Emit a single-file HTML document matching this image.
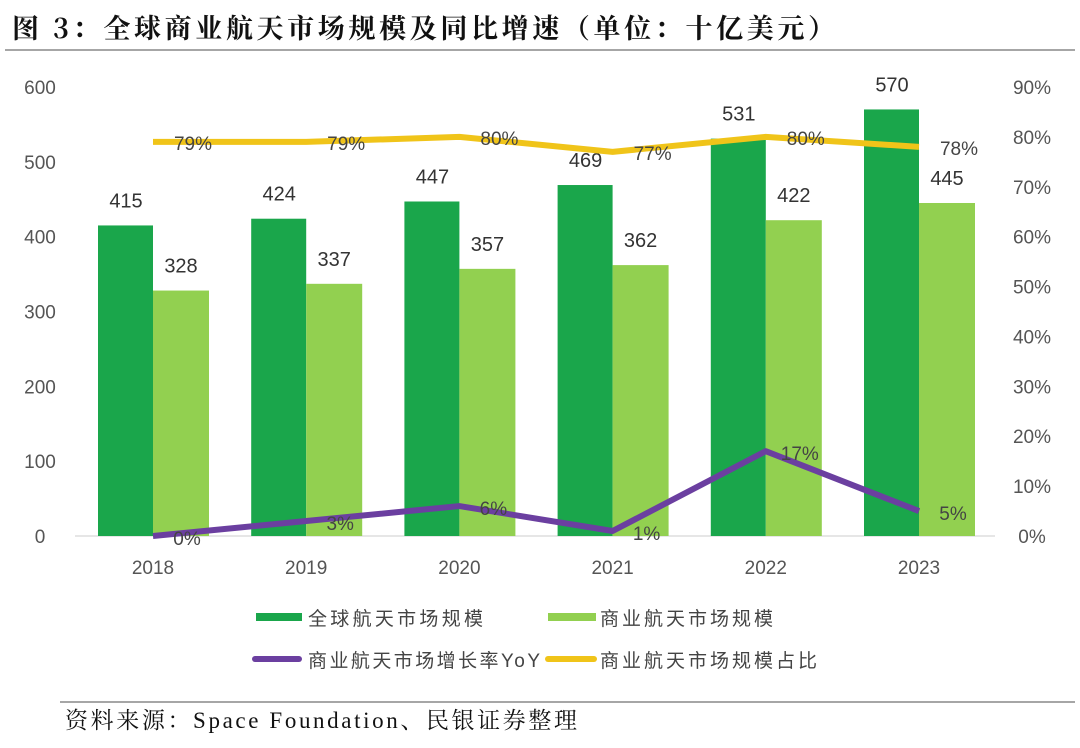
<!DOCTYPE html>
<html><head><meta charset="utf-8"><style>
body{margin:0;background:#fff;width:1080px;height:743px;overflow:hidden;font-family:"Liberation Sans","Noto Sans CJK SC",sans-serif}
</style></head><body>
<svg id="c" width="1080" height="743" xmlns="http://www.w3.org/2000/svg">
<text x="12" y="38" font-family="'Noto Serif CJK SC',serif" font-weight="bold" font-size="27" fill="#111" textLength="823" lengthAdjust="spacing">图 3：全球商业航天市场规模及同比增速（单位：十亿美元）</text>
<line x1="5" y1="50" x2="1075" y2="50" stroke="#888" stroke-width="1.5"/>
<line x1="60" y1="702" x2="1075" y2="702" stroke="#888" stroke-width="1.5"/>
<text x="65" y="728" font-family="'Liberation Serif','Noto Serif CJK SC',serif" font-size="23" fill="#111" textLength="512" lengthAdjust="spacing">资料来源：Space Foundation、民银证券整理</text>
<g id="plot"></g>
<g id="legend" font-size="19" fill="#444">
<rect x="256" y="613" width="46" height="8" fill="#1aa64b"/>
<text x="308" y="625" textLength="175" lengthAdjust="spacing">全球航天市场规模</text>
<rect x="548" y="613" width="48" height="8" fill="#92d050"/>
<text x="600" y="625" textLength="173" lengthAdjust="spacing">商业航天市场规模</text>
<rect x="252" y="656" width="50" height="6" rx="3" fill="#6b3fa0"/>
<text x="308" y="667" textLength="232" lengthAdjust="spacing">商业航天市场增长率YoY</text>
<rect x="545" y="656" width="52" height="6" rx="3" fill="#f0c419"/>
<text x="600" y="667" textLength="217" lengthAdjust="spacing">商业航天市场规模占比</text>
</g>
</svg>
<script>
const categories=["2018","2019","2020","2021","2022","2023"];
const globalVals=[415,424,447,469,531,570];
const commercialVals=[328,337,357,362,422,445];
const growthVals=[0,3,6,1,17,5];
const ratioVals=[79,79,80,77,80,78];
const leftTicks=[0,100,200,300,400,500,600];
const rightTicks=[0,10,20,30,40,50,60,70,80,90];
const NS="http://www.w3.org/2000/svg";
const g=document.getElementById('plot');
const y0=536,yTop=87;
const yL=v=>y0-v/600*(y0-yTop);
const yR=v=>y0-v/90*(y0-yTop);
const xC=i=>153+i*153.2;
function mk(t,a,txt){const e=document.createElementNS(NS,t);for(const k in a)e.setAttribute(k,a[k]);if(txt!=null)e.textContent=txt;g.appendChild(e);return e;}
leftTicks.forEach(v=>{const e=mk('text',{x:40,y:yL(v)+7,'text-anchor':'middle','font-size':19,fill:'#555'},v);

});
rightTicks.forEach(v=>{const e=mk('text',{x:1032,y:yR(v)+7,'text-anchor':'middle','font-size':19,fill:'#555'},v+'%');

});
const ax=mk('line',{x1:75,y1:y0,x2:995,y2:y0,stroke:'#ccc','stroke-width':1});


categories.forEach((c,i)=>{
const x=xC(i);
const b1=mk('rect',{x:x-55,y:yL(globalVals[i]),width:55,height:y0-yL(globalVals[i]),fill:'#1aa64b'});


const b2=mk('rect',{x:x,y:yL(commercialVals[i]),width:56,height:y0-yL(commercialVals[i]),fill:'#92d050'});


const l1=mk('text',{x:x-27,y:yL(globalVals[i])-18,'text-anchor':'middle','font-size':20,fill:'#333'},globalVals[i]);


const l2=mk('text',{x:x+28,y:yL(commercialVals[i])-18,'text-anchor':'middle','font-size':20,fill:'#333'},commercialVals[i]);


const t=mk('text',{x:x,y:574,'text-anchor':'middle','font-size':19,fill:'#555'},c);


});
const rl=mk('polyline',{points:ratioVals.map((v,i)=>xC(i)+','+yR(v)).join(' '),fill:'none',stroke:'#f0c419','stroke-width':6,'stroke-linejoin':'round'});


const gl=mk('polyline',{points:growthVals.map((v,i)=>xC(i)+','+yR(v)).join(' '),fill:'none',stroke:'#6b3fa0','stroke-width':6,'stroke-linejoin':'round'});


categories.forEach((c,i)=>{
const x=xC(i);
const a=mk('text',{x:x+40,y:yR(ratioVals[i])+8,'text-anchor':'middle','font-size':19,fill:'#444'},ratioVals[i]+'%');


const b=mk('text',{x:x+34,y:yR(growthVals[i])+9,'text-anchor':'middle','font-size':19,fill:'#444'},growthVals[i]+'%');


});
</script>
</body></html>
